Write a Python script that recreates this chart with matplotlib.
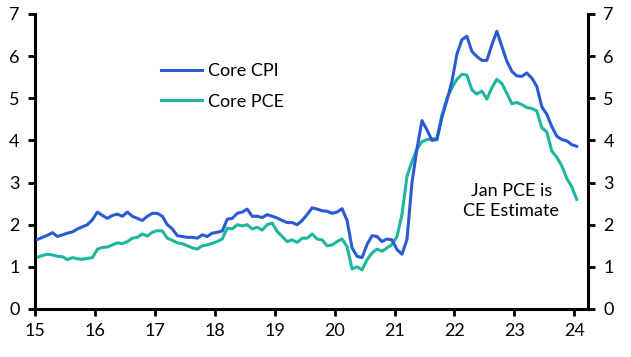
import numpy as np
import matplotlib
matplotlib.use("Agg")
import matplotlib.pyplot as plt

# ── Colours / fonts ──────────────────────────────────────────────────────────
C_CPI = "#2A5BD3"
C_PCE = "#1DB7A0"
FONT = "Lato"

# ── Data: monthly y/y %, Jan 2015 .. Jan 2024 ────────────────────────────────
start_year = 15
core_cpi = [
    1.65, 1.70, 1.75, 1.81, 1.72, 1.76, 1.80, 1.83, 1.90, 1.95, 2.00, 2.12,   # 2015
    2.30, 2.22, 2.15, 2.22, 2.25, 2.20, 2.30, 2.20, 2.15, 2.10, 2.20, 2.27,   # 2016
    2.27, 2.20, 2.00, 1.90, 1.74, 1.72, 1.70, 1.70, 1.68, 1.76, 1.72, 1.80,   # 2017
    1.82, 1.85, 2.13, 2.15, 2.27, 2.30, 2.37, 2.20, 2.20, 2.17, 2.24, 2.20,   # 2018
    2.16, 2.10, 2.05, 2.05, 2.00, 2.10, 2.24, 2.40, 2.37, 2.33, 2.32, 2.27,   # 2019
    2.30, 2.38, 2.10, 1.45, 1.25, 1.22, 1.53, 1.74, 1.72, 1.60, 1.66, 1.64,   # 2020
    1.41, 1.30, 1.65, 3.00, 3.80, 4.47, 4.25, 4.00, 4.02, 4.55, 4.95, 5.40,   # 2021
    6.05, 6.39, 6.47, 6.11, 5.99, 5.90, 5.90, 6.27, 6.59, 6.23, 5.88, 5.64,   # 2022
    5.53, 5.52, 5.60, 5.48, 5.28, 4.80, 4.62, 4.33, 4.10, 4.02, 3.99, 3.90,   # 2023
    3.86,                                                                     # 2024
]
core_pce = [
    1.23, 1.27, 1.30, 1.28, 1.25, 1.24, 1.17, 1.22, 1.19, 1.18, 1.20, 1.22,   # 2015
    1.42, 1.46, 1.47, 1.52, 1.57, 1.55, 1.60, 1.68, 1.70, 1.78, 1.73, 1.82,   # 2016
    1.86, 1.85, 1.68, 1.63, 1.57, 1.55, 1.50, 1.45, 1.42, 1.50, 1.52, 1.56,   # 2017
    1.60, 1.66, 1.92, 1.90, 2.00, 1.97, 2.00, 1.90, 1.94, 1.87, 2.00, 2.04,   # 2018
    1.84, 1.72, 1.60, 1.64, 1.58, 1.68, 1.68, 1.78, 1.66, 1.64, 1.50, 1.52,   # 2019
    1.60, 1.66, 1.48, 0.95, 1.00, 0.93, 1.17, 1.33, 1.42, 1.37, 1.45, 1.53,   # 2020
    1.72, 2.25, 3.15, 3.50, 3.80, 3.97, 4.02, 4.03, 4.05, 4.60, 5.00, 5.25,   # 2021
    5.45, 5.57, 5.55, 5.20, 5.10, 5.17, 4.98, 5.25, 5.45, 5.35, 5.12, 4.87,   # 2022
    4.90, 4.85, 4.78, 4.76, 4.70, 4.30, 4.20, 3.75, 3.60, 3.40, 3.10, 2.90,   # 2023
    2.60,                                                                     # 2024
]
year_ticks = list(range(15, 25))
y_ticks = list(range(0, 8))
note = "Jan PCE is\nCE Estimate"

# mid-month positions on a "years since 2000" axis
x = start_year + (np.arange(len(core_cpi)) + 0.5) / 12

plt.rcParams["font.family"] = [FONT, "DejaVu Sans"]

fig = plt.figure(figsize=(6.31, 3.57), dpi=100, facecolor="white")
ax = fig.add_axes([0.0555, 0.1345, 0.8764, 0.8263])

ax.plot(x, core_cpi, color=C_CPI, lw=2.2, label="Core CPI", zorder=3)
ax.plot(x, core_pce, color=C_PCE, lw=2.2, label="Core PCE", zorder=2)

ax.set_xlim(15, 24.23)
ax.set_ylim(0, 7)
ax.set_xticks(year_ticks)
ax.set_yticks(y_ticks)

for s in ax.spines.values():
    s.set_linewidth(2.2)
    s.set_color("black")
ax.spines["top"].set_visible(False)
ax.tick_params(axis="both", direction="out", length=5, width=2.0,
               labelsize=13, colors="black")
ax.tick_params(axis="y", right=True, labelright=True, pad=6)
ax.tick_params(axis="x", pad=5)

ax.legend(loc="upper left", bbox_to_anchor=(0.198, 0.888), frameon=False,
          fontsize=13, handlelength=2.3, handletextpad=0.3, labelspacing=0.8)

ax.text(22.95, 2.57, note, ha="center", va="center", fontsize=13,
        linespacing=1.3)

fig.savefig("out.png", dpi=100, facecolor="white")
